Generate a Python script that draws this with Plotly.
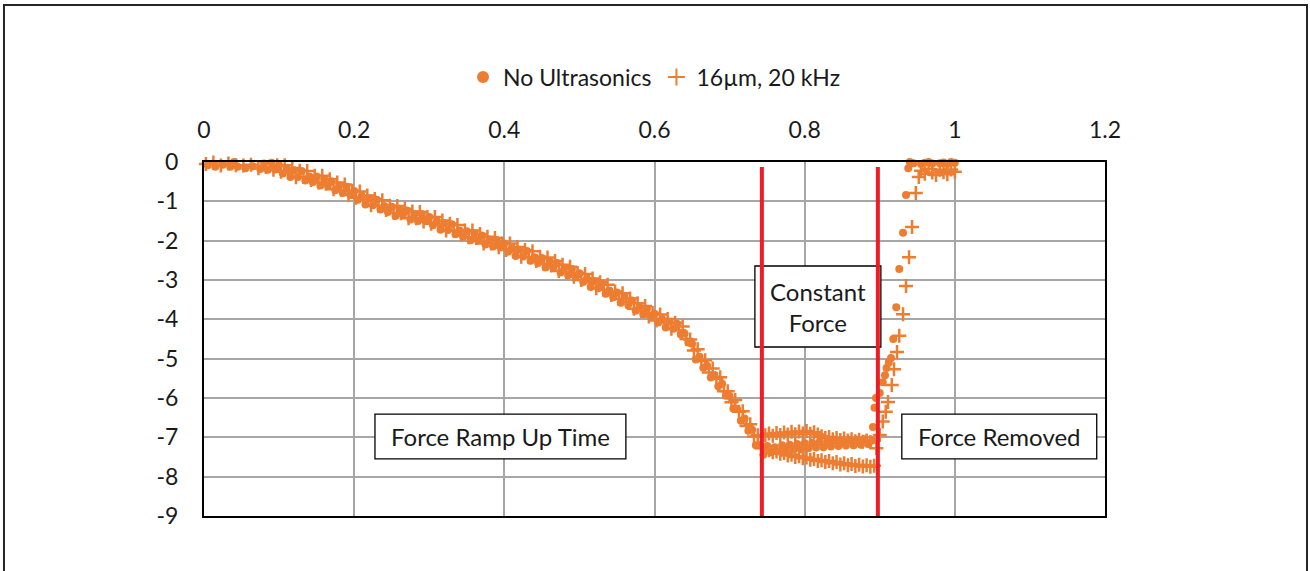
import plotly.graph_objects as go

# ---------------- data ----------------
X_TICKS = [0, 0.2, 0.4, 0.6, 0.8, 1.0, 1.2]
X_TICKTEXT = ["0", "0.2", "0.4", "0.6", "0.8", "1", "1.2"]
Y_TICKS = [0, -1, -2, -3, -4, -5, -6, -7, -8, -9]
Y_TICKTEXT = ["0", "-1", "-2", "-3", "-4", "-5", "-6", "-7", "-8", "-9"]

SERIES_NAMES = ["No Ultrasonics", "16µm, 20 kHz"]
PHASE_BOUNDARIES = [0.743, 0.8975]
PHASE_LABELS = ["Force Ramp Up Time", "Constant<br>Force", "Force Removed"]

# --- No Ultrasonics: ramp segment, sampled every 0.005 from 0
no_us_ramp_y = [
    0.10, -0.08, 0.05, -0.12, 0.08,
    -0.07, 0.11, -0.12, 0.00, -0.12,
    0.05, -0.16, 0.04, -0.11, 0.03,
    -0.18, -0.04, -0.20, -0.02, -0.19,
    -0.08, -0.29, -0.19, -0.38, -0.21,
    -0.38, -0.23, -0.47, -0.37, -0.51,
    -0.37, -0.60, -0.43, -0.60, -0.49,
    -0.72, -0.60, -0.79, -0.63, -0.83,
    -0.74, -0.96, -0.87, -1.08, -0.92,
    -1.10, -0.96, -1.21, -1.12, -1.27,
    -1.14, -1.37, -1.19, -1.35, -1.23,
    -1.46, -1.33, -1.50, -1.32, -1.50,
    -1.40, -1.61, -1.52, -1.72, -1.56,
    -1.73, -1.58, -1.84, -1.74, -1.90,
    -1.76, -1.99, -1.81, -1.99, -1.87,
    -2.10, -1.97, -2.15, -1.98, -2.17,
    -2.07, -2.28, -2.19, -2.39, -2.23,
    -2.40, -2.26, -2.51, -2.42, -2.57,
    -2.44, -2.68, -2.51, -2.68, -2.57,
    -2.81, -2.69, -2.88, -2.72, -2.92,
    -2.83, -3.05, -2.97, -3.18, -3.03,
    -3.21, -3.08, -3.35, -3.27, -3.44,
    -3.32, -3.58, -3.42, -3.62, -3.52,
    -3.78, -3.68, -3.87, -3.73, -3.93,
    -3.86, -4.08, -4.00, -4.21, -4.06,
    -4.24, -4.11, -4.38, -4.36, -4.59,
    -4.62, -5.02, -4.95, -5.23, -5.18,
    -5.48, -5.42, -5.70, -5.64, -5.94,
    -5.95, -6.27, -6.28, -6.58, -6.52,
    -6.83, -6.81, -7.20, -7.20, -7.44,
]
no_us_ramp_x = [round(i * 0.005, 4) for i in range(len(no_us_ramp_y))]

# constant-force segment, sampled every 0.005 from 0.75
no_us_hold_y = [
    -7.22, -7.38, -7.25, -7.36, -7.20,
    -7.34, -7.19, -7.31, -7.17, -7.30,
    -7.15, -7.28, -7.14, -7.26, -7.12,
    -7.25, -7.11, -7.23, -7.09, -7.22,
    -7.08, -7.21, -7.07, -7.20, -7.06,
    -7.19, -7.05, -7.17, -7.08,
]
no_us_hold_x = [round(0.75 + i * 0.005, 4) for i in range(len(no_us_hold_y))]

no_us_release_x = [0.891, 0.893, 0.895, 0.900, 0.904, 0.907, 0.909, 0.912,
                   0.915, 0.918, 0.922, 0.926, 0.931, 0.935, 0.938]
no_us_release_y = [-6.74, -6.25, -6.00, -5.87, -5.60, -5.42, -5.24, -5.10,
                   -4.98, -4.50, -3.69, -2.72, -1.80, -0.84, -0.16]

no_us_end_x = [0.940, 0.945, 0.950, 0.955, 0.960, 0.965, 0.970, 0.975,
               0.980, 0.985, 0.990, 0.995, 1.000]
no_us_end_y = [0.00, -0.03, 0.01, -0.05, -0.02, 0.00, -0.04, 0.01,
               -0.03, -0.01, -0.05, 0.00, -0.02]

# --- 16 µm, 20 kHz: ramp segment, sampled every 0.005 from 0.0025
us_ramp_y = [
    -0.05, 0.15, -0.01, 0.13, -0.09,
    0.11, -0.04, 0.14, -0.08, 0.06,
    -0.09, 0.10, -0.07, 0.06, -0.16,
    0.03, -0.13, 0.03, -0.20, -0.08,
    -0.25, -0.08, -0.26, -0.15, -0.39,
    -0.22, -0.38, -0.23, -0.46, -0.35,
    -0.52, -0.35, -0.55, -0.44, -0.69,
    -0.52, -0.71, -0.57, -0.83, -0.73,
    -0.91, -0.75, -0.95, -0.85, -1.10,
    -0.94, -1.12, -0.97, -1.22, -1.11,
    -1.29, -1.12, -1.30, -1.19, -1.43,
    -1.26, -1.43, -1.27, -1.51, -1.40,
    -1.57, -1.40, -1.60, -1.49, -1.74,
    -1.57, -1.74, -1.60, -1.84, -1.74,
    -1.91, -1.74, -1.93, -1.83, -2.07,
    -1.90, -2.07, -1.93, -2.17, -2.07,
    -2.24, -2.07, -2.27, -2.16, -2.41,
    -2.24, -2.42, -2.27, -2.52, -2.41,
    -2.59, -2.43, -2.63, -2.52, -2.77,
    -2.61, -2.80, -2.66, -2.92, -2.82,
    -3.00, -2.85, -3.05, -2.96, -3.21,
    -3.06, -3.25, -3.12, -3.38, -3.29,
    -3.48, -3.34, -3.55, -3.47, -3.73,
    -3.59, -3.79, -3.66, -3.93, -3.84,
    -4.03, -3.88, -4.08, -3.99, -4.24,
    -4.09, -4.28, -4.18, -4.50, -4.51,
    -4.79, -4.76, -5.06, -5.04, -5.35,
    -5.25, -5.51, -5.47, -5.83, -5.83,
    -6.11, -6.05, -6.35, -6.34, -6.71,
    -6.67, -6.98, -6.95, -7.28,
]
us_ramp_x = [round(0.0025 + i * 0.005, 4) for i in range(len(us_ramp_y))]

# constant force: upper branch (every 0.005 from 0.7475) and lower branch (every 0.005 from 0.7525)
us_hold_upper_y = [-6.95, -6.90, -6.96, -6.89, -6.94, -6.88, -6.93, -6.86,
                   -6.92, -6.85, -6.90, -6.84, -6.91, -6.87, -6.93, -6.97,
                   -7.02, -6.99, -7.05, -7.02, -7.07, -7.03, -7.08, -7.05,
                   -7.10, -7.06, -7.11, -7.08, -7.12]
us_hold_upper_x = [round(0.7475 + i * 0.005, 4) for i in range(len(us_hold_upper_y))]
us_hold_lower_y = [-7.33, -7.38, -7.36, -7.42, -7.40, -7.46, -7.44, -7.50,
                   -7.48, -7.53, -7.51, -7.57, -7.55, -7.60, -7.58, -7.63,
                   -7.60, -7.66, -7.63, -7.69, -7.66, -7.71, -7.68, -7.73,
                   -7.70, -7.74, -7.71, -7.75, -7.72]
us_hold_lower_x = [round(0.7525 + i * 0.005, 4) for i in range(len(us_hold_lower_y))]

us_release_x = [0.8955, 0.900, 0.904, 0.908, 0.911, 0.916, 0.919, 0.923,
                0.926, 0.931, 0.935, 0.939, 0.943, 0.948, 0.952]
us_release_y = [-7.28, -6.94, -6.60, -6.35, -6.10, -5.67, -5.27, -4.83,
                -4.42, -3.87, -3.15, -2.42, -1.65, -0.79, -0.38]

us_end_x = [0.955, 0.960, 0.965, 0.970, 0.975, 0.980, 0.985, 0.990, 0.995, 1.000]
us_end_y = [-0.22, -0.30, -0.18, -0.27, -0.33, -0.20, -0.26, -0.31, -0.19, -0.25]

# ---------------- assemble series ----------------
no_us_x = no_us_ramp_x + no_us_hold_x + no_us_release_x + no_us_end_x
no_us_y = no_us_ramp_y + no_us_hold_y + no_us_release_y + no_us_end_y
us_x = us_ramp_x + us_hold_upper_x + us_hold_lower_x + us_release_x + us_end_x
us_y = us_ramp_y + us_hold_upper_y + us_hold_lower_y + us_release_y + us_end_y

ORANGE = "#ED7D31"
FONT = "Lato"
TXT = "#1a1a1a"

fig = go.Figure()
fig.add_trace(go.Scatter(
    x=no_us_x, y=no_us_y, mode="markers", name=SERIES_NAMES[0],
    marker=dict(symbol="circle", size=8, color=ORANGE, line=dict(width=0)),
    cliponaxis=False,
))
fig.add_trace(go.Scatter(
    x=us_x, y=us_y, mode="markers", name=SERIES_NAMES[1],
    marker=dict(symbol="cross-thin", size=10, color=ORANGE,
                line=dict(width=2.5, color=ORANGE)),
    cliponaxis=False,
))

shapes = []
# text boxes (drawn first, so red lines sit on top)
boxes = [
    (0.2277, 0.5619, -6.41, -7.55),
    (0.7337, 0.9015, -2.644, -4.704),
    (0.9294, 1.189, -6.41, -7.55),
]
for (x0, x1, y0, y1) in boxes:
    shapes.append(dict(type="rect", xref="x", yref="y", x0=x0, x1=x1, y0=y0, y1=y1,
                       line=dict(color="#000000", width=1.3), fillcolor="white",
                       layer="above"))
for xb in PHASE_BOUNDARIES:
    shapes.append(dict(type="line", xref="x", yref="y", x0=xb, x1=xb, y0=-0.13, y1=-9,
                       line=dict(color="#EE1C25", width=4), layer="above"))
# outer chart border
shapes.append(dict(type="rect", xref="paper", yref="paper",
                   x0=-0.2220, x1=1.2242, y0=-0.20, y1=1.4435,
                   line=dict(color="#262626", width=2), fillcolor="rgba(0,0,0,0)",
                   layer="above"))

annotations = []
for (x0, x1, y0, y1), label in zip(boxes, PHASE_LABELS):
    annotations.append(dict(x=(x0 + x1) / 2, y=(y0 + y1) / 2, xref="x", yref="y",
                            text=label, showarrow=False,
                            font=dict(family=FONT, size=24, color=TXT)))

axis_common = dict(
    showgrid=True, gridcolor="#A6A6A6", gridwidth=1.5,
    showline=True, linecolor="#000000", linewidth=2, mirror=True,
    zeroline=False, ticks="",
    tickfont=dict(family=FONT, size=23, color=TXT),
)

fig.update_layout(
    width=1310, height=571,
    margin=dict(l=204, r=205, t=162, b=55),
    paper_bgcolor="white", plot_bgcolor="white",
    xaxis=dict(range=[0, 1.2], side="top", tickmode="array",
               tickvals=X_TICKS, ticktext=X_TICKTEXT, ticklabelstandoff=13,
               **axis_common),
    yaxis=dict(range=[-9, 0], tickmode="array",
               tickvals=Y_TICKS, ticktext=Y_TICKTEXT, ticklabelstandoff=19,
               **axis_common),
    legend=dict(orientation="h", x=0.5, xanchor="center", y=1.24, yanchor="middle",
                font=dict(family=FONT, size=23, color=TXT),
                bgcolor="rgba(0,0,0,0)", itemsizing="constant"),
    shapes=shapes,
    annotations=annotations,
    font=dict(family=FONT, color=TXT),
)

fig.write_html("out.html", config={"displayModeBar": False},
               post_script="document.body.style.margin='0';")
